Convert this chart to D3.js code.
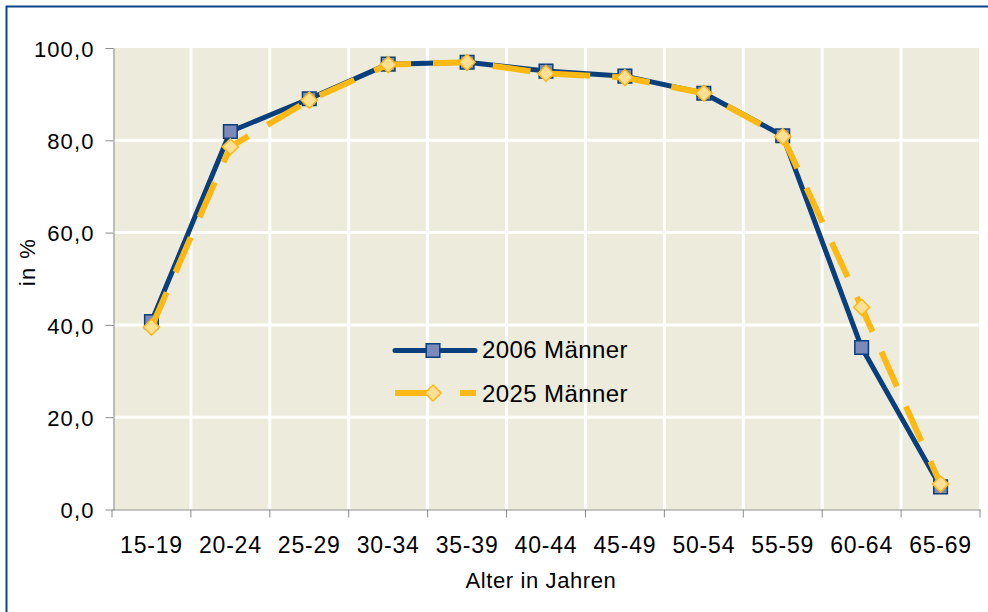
<!DOCTYPE html>
<html><head><meta charset="utf-8">
<script src="https://cdn.jsdelivr.net/npm/d3@7"></script>
<style>
html,body{margin:0;padding:0;background:#fff;}
svg{display:block;font-family:"Liberation Sans",Arial,sans-serif;}
</style></head>
<body>
<svg id="chart" width="988" height="612"></svg>
<script>
const categories = ["15-19","20-24","25-29","30-34","35-39","40-44","45-49","50-54","55-59","60-64","65-69"];
const series2006 = [40.7, 81.9, 89.0, 96.5, 96.9, 95.0, 93.9, 90.2, 81.0, 35.1, 4.9];
const series2025 = [39.5, 78.6, 88.7, 96.4, 96.9, 94.5, 93.6, 90.2, 80.8, 43.8, 5.5];
const seriesNames = ["2006 Männer", "2025 Männer"];
const yTicks = [0, 20, 40, 60, 80, 100];
const yTitle = "in %";
const xTitle = "Alter in Jahren";

const svg = d3.select("#chart");
const navy = "#0a3f7e", yellow = "#fdb913", sqFill = "#7b89bb", diaFill = "#ffdf95";
const bg = "#ecebdc", axisGray = "#8c8c8c";

// outer border
svg.append("rect").attr("x", 6.5).attr("y", 6.5).attr("width", 1000).attr("height", 700)
  .attr("fill", "none").attr("stroke", "#0b4588").attr("stroke-width", 2);

const x = d3.scaleBand().domain(categories).range([112, 980]);
const y = d3.scaleLinear().domain([0, 100]).range([509.5, 48]);
const fmt = v => d3.format(".1f")(v).replace(".", ",");

// plot background
svg.append("rect").attr("x", 113).attr("y", y(100)).attr("width", 979 - 113).attr("height", y(0) - y(100)).attr("fill", bg);

// gridlines
svg.append("g").selectAll("line").data(yTicks.filter(t => t > 0 && t < 100)).join("line")
  .attr("x1", 113).attr("x2", 979).attr("y1", d => y(d)).attr("y2", d => y(d))
  .attr("stroke", "#fff").attr("stroke-width", 3);
svg.append("g").selectAll("line").data(categories.slice(1)).join("line")
  .attr("x1", d => x(d)).attr("x2", d => x(d)).attr("y1", y(100)).attr("y2", y(0))
  .attr("stroke", "#fff").attr("stroke-width", 3);

// y axis
const gy = svg.append("g").attr("transform", "translate(113.5,0)")
  .call(d3.axisLeft(y).tickValues(yTicks).tickFormat(fmt).tickSize(8).tickSizeOuter(0).tickPadding(11));
gy.select(".domain").attr("stroke", axisGray);
gy.selectAll(".tick line").attr("stroke", axisGray);
gy.selectAll(".tick text").attr("font-size", 22).attr("letter-spacing", "1.1px").attr("fill", "#000")
  .attr("font-family", '"Liberation Sans",Arial,sans-serif').attr("dy", "0.37em");

// x axis
const gx = svg.append("g").attr("transform", `translate(0,${y(0)})`)
  .call(d3.axisBottom(x).tickSizeInner(0).tickSizeOuter(0).tickPadding(27));
gx.select(".domain").attr("stroke", axisGray);
gx.selectAll(".tick text").attr("font-size", 23).attr("letter-spacing", "0.8px").attr("fill", "#000")
  .attr("font-family", '"Liberation Sans",Arial,sans-serif');
const bounds = categories.map(c => x(c)).concat([x.range()[1]]);
gx.append("g").selectAll("line").data(bounds).join("line")
  .attr("x1", d => d).attr("x2", d => d).attr("y1", 0).attr("y2", 8).attr("stroke", axisGray);

// titles
svg.append("text").attr("x", 541).attr("y", 588).attr("text-anchor", "middle")
  .attr("font-size", 22).attr("letter-spacing", "0.6px").text(xTitle);
svg.append("text").attr("transform", "translate(35,262) rotate(-90)").attr("text-anchor", "middle")
  .attr("font-size", 22).attr("letter-spacing", "1.4px").text(yTitle);

// series
const cx = c => x(c) + x.bandwidth() / 2;
const line = d3.line().x((d, i) => cx(categories[i])).y(d => y(d));
const sq = d3.symbol().type(d3.symbolSquare).size(185);
const dia = d3.symbol().type(d3.symbolSquare).size(130);

svg.append("path").datum(series2006).attr("d", line).attr("fill", "none")
  .attr("stroke", navy).attr("stroke-width", 5).attr("stroke-linejoin", "round");
svg.append("g").selectAll("path").data(series2006).join("path")
  .attr("d", sq).attr("transform", (d, i) => `translate(${cx(categories[i])},${y(d)})`)
  .attr("fill", sqFill).attr("stroke", navy).attr("stroke-width", 1.5);

svg.append("path").datum(series2025).attr("d", line).attr("fill", "none")
  .attr("stroke", yellow).attr("stroke-width", 6).attr("stroke-dasharray", "38,22");
svg.append("g").selectAll("path").data(series2025).join("path")
  .attr("d", dia).attr("transform", (d, i) => `translate(${cx(categories[i])},${y(d)}) rotate(45)`)
  .attr("fill", diaFill).attr("stroke", yellow).attr("stroke-width", 1.5);

// legend
const lg = svg.append("g");
lg.append("line").attr("x1", 395).attr("x2", 475).attr("y1", 350.5).attr("y2", 350.5)
  .attr("stroke", navy).attr("stroke-width", 5).attr("stroke-linecap", "round");
lg.append("path").attr("d", sq).attr("transform", "translate(433,350.5)")
  .attr("fill", sqFill).attr("stroke", navy).attr("stroke-width", 1.5);
lg.append("text").attr("x", 482).attr("y", 358).attr("font-size", 24).attr("letter-spacing", "0.4px").text(seriesNames[0]);

lg.append("line").attr("x1", 395).attr("x2", 476).attr("y1", 393).attr("y2", 393)
  .attr("stroke", yellow).attr("stroke-width", 6).attr("stroke-dasharray", "45,20");
lg.append("path").attr("d", dia).attr("transform", "translate(433,393) rotate(45)")
  .attr("fill", diaFill).attr("stroke", yellow).attr("stroke-width", 1.5);
lg.append("text").attr("x", 482).attr("y", 401.5).attr("font-size", 24).attr("letter-spacing", "0.4px").text(seriesNames[1]);
</script>
</body></html>
